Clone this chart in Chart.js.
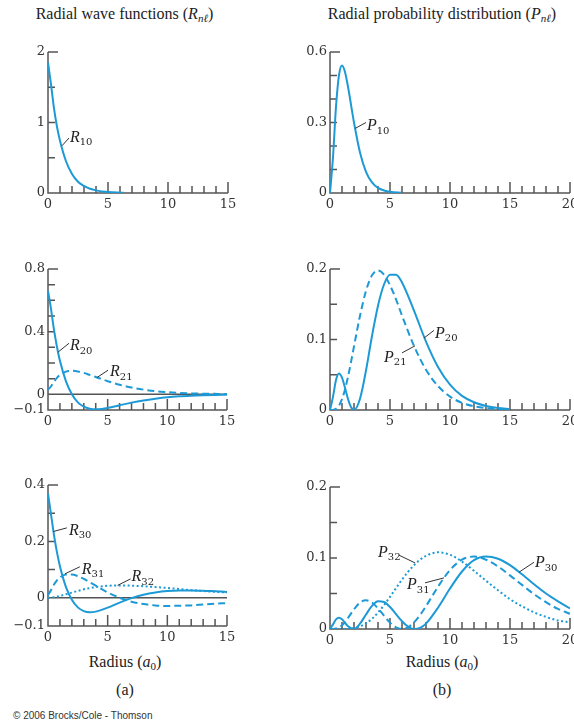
<!DOCTYPE html>
<html>
<head>
<meta charset="utf-8">
<script src="https://cdn.jsdelivr.net/npm/chart.js@4.4.1/dist/chart.umd.min.js"></script>
<style>
  body { margin: 0; width: 574px; height: 726px; overflow: hidden; background: #fff; position: relative; font-family: "Liberation Serif", serif; color: #222; }
  .box { position: absolute; }
  .txt { position: absolute; white-space: nowrap; text-align: center; font-size: 16px; line-height: 16px; }
  .txt sub { font-size: 11px; vertical-align: -3px; line-height: 0; }
  .copy { position: absolute; left: 13px; top: 710px; font: 10px "Liberation Sans", sans-serif; color: #333; white-space: nowrap; }
</style>
</head>
<body>

<div class="txt" style="left:0px; top:6px; width:249px">Radial wave functions (<i>R</i><sub><i>nℓ</i></sub>)</div>
<div class="txt" style="left:322px; top:6px; width:240px">Radial probability distribution (<i>P</i><sub><i>nℓ</i></sub>)</div>
<div class="txt" style="left:65px; top:654px; width:120px">Radius (<i>a</i><sub>0</sub>)</div>
<div class="txt" style="left:382px; top:654px; width:120px">Radius (<i>a</i><sub>0</sub>)</div>
<div class="txt" style="left:95px; top:682px; width:60px">(a)</div>
<div class="txt" style="left:412px; top:682px; width:60px">(b)</div>
<div class="copy">© 2006 Brocks/Cole - Thomson</div>

<div class="box" id="b1"><canvas id="c1"></canvas></div>
<div class="box" id="b2"><canvas id="c2"></canvas></div>
<div class="box" id="b3"><canvas id="c3"></canvas></div>
<div class="box" id="b4"><canvas id="c4"></canvas></div>
<div class="box" id="b5"><canvas id="c5"></canvas></div>
<div class="box" id="b6"><canvas id="c6"></canvas></div>

<script>
// radius values (units of a0) and curves
var r1 = [0, 0.25, 0.5, 0.75, 1, 1.5, 2, 2.5, 3, 3.5, 4, 5, 6, 6.3];
var R10 = [1.85, 1.54, 1.2, 0.94, 0.74, 0.45, 0.27, 0.16, 0.1, 0.06, 0.037, 0.013, 0.005, 0.004];

var r2 = [0, 0.25, 0.5, 0.75, 1, 1.25, 1.5, 2, 2.5, 3, 3.5, 4, 5, 6];
var P10 = [0, 0.152, 0.368, 0.502, 0.543, 0.515, 0.452, 0.3, 0.172, 0.09, 0.045, 0.022, 0.005, 0.001];

var r3 = [0, 0.25, 0.5, 0.75, 1, 1.5, 2, 2.5, 3, 3.5, 4, 4.5, 5, 6, 7, 8, 9, 10, 11, 12, 13, 14, 15];
var R20 = [0.66, 0.546, 0.413, 0.304, 0.214, 0.084, 0, -0.051, -0.079, -0.092, -0.096, -0.093, -0.087, -0.07, -0.053, -0.039, -0.028, -0.019, -0.013, -0.009, -0.006, -0.004, -0.003];
var R21 = [0.03, 0.05, 0.08, 0.105, 0.124, 0.145, 0.15, 0.146, 0.137, 0.124, 0.111, 0.097, 0.084, 0.061, 0.043, 0.03, 0.02, 0.014, 0.009, 0.006, 0.004, 0.003, 0.002];

var r4 = [0, 0.25, 0.5, 0.75, 1, 1.25, 1.5, 1.75, 2, 2.5, 3, 3.5, 4, 4.5, 5, 5.5, 6, 7, 8, 9, 10, 11, 12, 13, 14, 15];
var P20 = [0, 0.0186, 0.0426, 0.0519, 0.046, 0.0315, 0.0157, 0.0042, 0, 0.016, 0.056, 0.105, 0.148, 0.178, 0.192, 0.192, 0.181, 0.141, 0.097, 0.061, 0.036, 0.02, 0.011, 0.0058, 0.0029, 0.0015];
var P21 = [0, 0.0001, 0.0016, 0.0062, 0.0153, 0.0291, 0.0471, 0.0679, 0.0902, 0.1336, 0.169, 0.191, 0.198, 0.192, 0.177, 0.157, 0.134, 0.091, 0.057, 0.034, 0.019, 0.0102, 0.0053, 0.0027, 0.0013, 0.0007];

var r5 = [0, 0.25, 0.5, 0.75, 1, 1.5, 2, 2.5, 3, 3.5, 4, 5, 6, 7, 8, 9, 10, 11, 12, 13, 14, 15];
var R30 = [0.37, 0.297, 0.223, 0.162, 0.112, 0.039, -0.007, -0.034, -0.047, -0.051, -0.049, -0.035, -0.017, -0.001, 0.011, 0.019, 0.024, 0.026, 0.026, 0.025, 0.023, 0.021];
var R31 = [0.01, 0.027, 0.047, 0.062, 0.072, 0.083, 0.083, 0.077, 0.067, 0.055, 0.043, 0.019, 0, -0.014, -0.022, -0.027, -0.029, -0.028, -0.027, -0.024, -0.021, -0.019];
var R32 = [0, 0.0005, 0.0019, 0.004, 0.0065, 0.0123, 0.0185, 0.0245, 0.03, 0.0344, 0.038, 0.0426, 0.044, 0.043, 0.041, 0.038, 0.035, 0.031, 0.027, 0.024, 0.021, 0.019];

var r6 = [0, 0.25, 0.5, 0.75, 1, 1.25, 1.5, 2, 2.5, 3, 3.5, 4, 4.5, 5, 5.5, 6, 6.5, 7, 7.5, 8, 9, 10, 11, 12, 13, 14, 15, 16, 17, 18, 19, 20];
var P30 = [0, 0.0065, 0.0135, 0.016, 0.0136, 0.0088, 0.0038, 0.0002, 0.0075, 0.0205, 0.0325, 0.039, 0.038, 0.031, 0.021, 0.011, 0.0034, 0.0001, 0.0016, 0.0076, 0.03, 0.057, 0.081, 0.097, 0.102, 0.099, 0.09, 0.077, 0.063, 0.05, 0.039, 0.029];
var P31 = [0, 0.0001, 0.0006, 0.0022, 0.0053, 0.0098, 0.0155, 0.0277, 0.0372, 0.0405, 0.0373, 0.0291, 0.0188, 0.009, 0.0024, 0, 0.0024, 0.0092, 0.0195, 0.0321, 0.0595, 0.083, 0.0976, 0.102, 0.0975, 0.088, 0.0755, 0.0621, 0.0491, 0.0378, 0.0283, 0.0215];
var P32 = [0, 0, 0, 0, 0, 0.0001, 0.0003, 0.0014, 0.0038, 0.008, 0.0145, 0.0231, 0.0336, 0.0453, 0.0575, 0.0695, 0.0805, 0.0899, 0.0975, 0.103, 0.108, 0.1045, 0.095, 0.082, 0.068, 0.0545, 0.042, 0.032, 0.0235, 0.017, 0.012, 0.0095];

// tick labels
var xTicksA = [0, 5, 10, 15];
var xTicksB = [0, 5, 10, 15, 20];
var yTicks1 = [0, 1, 2];
var yTicks2 = [0, 0.3, 0.6];
var yTicks3 = [-0.1, 0, 0.4, 0.8];
var yTicks4 = [0, 0.1, 0.2];
var yTicks5 = [-0.1, 0, 0.2, 0.4];
var yTicks6 = [0, 0.1, 0.2];

var lineColor = '#1d9ad6';
var axisColor = '#555';
var xAxisH = 28;
var solid = [];
var dashed = [7, 4];
var dotted = [2, 2.5];

function pts(xs, ys) {
  return xs.map(function(x, i) { return {x: x, y: ys[i]}; });
}

// axes with inward ticks, zero line, and curve labels
var decor = {
  id: 'decor',
  beforeDatasetsDraw: function(chart) {
    var o = chart.options.plugins.decor;
    var ctx = chart.ctx, xs = chart.scales.x, ys = chart.scales.y, a = chart.chartArea;
    ctx.save();
    ctx.strokeStyle = axisColor;
    ctx.lineWidth = 1.5;
    ctx.beginPath();
    ctx.moveTo(a.left, a.top);
    ctx.lineTo(a.left, a.bottom);
    ctx.lineTo(a.right, a.bottom);
    for (var v = 1; v <= xs.max; v++) {
      var px = xs.getPixelForValue(v);
      ctx.moveTo(px, a.bottom);
      ctx.lineTo(px, a.bottom - (v % 5 === 0 ? 11 : 7));
    }
    var n = Math.round((ys.max - ys.min) / o.yStep);
    for (var i = 1; i <= n; i++) {
      var py = ys.getPixelForValue(ys.min + i * o.yStep);
      ctx.moveTo(a.left, py);
      ctx.lineTo(a.left + (i === n ? 10 : 7), py);
    }
    if (ys.min < 0) {
      var z = ys.getPixelForValue(0);
      ctx.moveTo(a.left, z);
      ctx.lineTo(a.right, z);
    }
    ctx.stroke();
    ctx.restore();
  },
  afterDatasetsDraw: function(chart) {
    var o = chart.options.plugins.decor;
    var ctx = chart.ctx, xs = chart.scales.x, ys = chart.scales.y;
    ctx.save();
    o.notes.forEach(function(nt) {
      ctx.strokeStyle = '#333';
      ctx.lineWidth = 1;
      ctx.beginPath();
      ctx.moveTo(xs.getPixelForValue(nt.from[0]), ys.getPixelForValue(nt.from[1]));
      ctx.lineTo(xs.getPixelForValue(nt.to[0]), ys.getPixelForValue(nt.to[1]));
      ctx.stroke();
      var tx = xs.getPixelForValue(nt.at[0]), ty = ys.getPixelForValue(nt.at[1]);
      ctx.fillStyle = '#222';
      ctx.textAlign = 'left';
      ctx.textBaseline = 'middle';
      ctx.font = 'italic 16px "Liberation Serif"';
      ctx.fillText(nt.text, tx, ty);
      var w = ctx.measureText(nt.text).width;
      ctx.font = '10px "DejaVu Serif"';
      ctx.fillText(nt.sub, tx + w, ty + 5);
    });
    ctx.restore();
  }
};

var panels = [
  {box: 'b1', canvas: 'c1', left: 0, top: 30, width: 287, height: 200, area: [48, 52, 228, 193],
   xMax: 15, yMin: 0, yMax: 2, yStep: 0.5, xTicks: xTicksA, yTicks: yTicks1,
   series: [{r: r1, v: R10, dash: solid}],
   notes: [{text: 'R', sub: '10', at: [1.83, 0.79], from: [1.17, 0.67], to: [1.75, 0.78]}]},
  {box: 'b2', canvas: 'c2', left: 287, top: 30, width: 300, height: 200, area: [330, 52, 570, 193],
   xMax: 20, yMin: 0, yMax: 0.6, yStep: 0.1, xTicks: xTicksB, yTicks: yTicks2,
   series: [{r: r2, v: P10, dash: solid}],
   notes: [{text: 'P', sub: '10', at: [3.08, 0.285], from: [2.1, 0.275], to: [3.0, 0.3]}]},
  {box: 'b3', canvas: 'c3', left: 0, top: 250, width: 287, height: 200, area: [48, 269, 227, 410],
   xMax: 15, yMin: -0.1, yMax: 0.8, yStep: 0.1, xTicks: xTicksA, yTicks: yTicks3,
   series: [{r: r3, v: R20, dash: solid}, {r: r3, v: R21, dash: dashed}],
   notes: [{text: 'R', sub: '20', at: [1.84, 0.307], from: [0.85, 0.27], to: [1.76, 0.326]},
           {text: 'R', sub: '21', at: [5.2, 0.141], from: [4.1, 0.107], to: [5.03, 0.154]}]},
  {box: 'b4', canvas: 'c4', left: 287, top: 250, width: 300, height: 200, area: [330, 269, 570, 410],
   xMax: 20, yMin: 0, yMax: 0.2, yStep: 0.05, xTicks: xTicksB, yTicks: yTicks4,
   series: [{r: r4, v: P20, dash: solid}, {r: r4, v: P21, dash: dashed}],
   notes: [{text: 'P', sub: '20', at: [8.75, 0.108], from: [7.83, 0.102], to: [8.67, 0.113]},
           {text: 'P', sub: '21', at: [4.5, 0.074], from: [6.0, 0.081], to: [7.08, 0.091]}]},
  {box: 'b5', canvas: 'c5', left: 0, top: 468, width: 287, height: 190, area: [48, 485, 227, 626],
   xMax: 15, yMin: -0.1, yMax: 0.4, yStep: 0.1, xTicks: xTicksA, yTicks: yTicks5,
   series: [{r: r5, v: R30, dash: solid}, {r: r5, v: R31, dash: dashed}, {r: r5, v: R32, dash: dotted}],
   notes: [{text: 'R', sub: '30', at: [1.75, 0.238], from: [0.45, 0.235], to: [1.58, 0.248]},
           {text: 'R', sub: '31', at: [2.83, 0.099], from: [1.42, 0.085], to: [2.67, 0.11]},
           {text: 'R', sub: '32', at: [7.0, 0.074], from: [5.83, 0.044], to: [6.92, 0.067]}]},
  {box: 'b6', canvas: 'c6', left: 287, top: 468, width: 300, height: 190, area: [330, 487, 570, 629],
   xMax: 20, yMin: 0, yMax: 0.2, yStep: 0.05, xTicks: xTicksB, yTicks: yTicks6,
   series: [{r: r6, v: P30, dash: solid}, {r: r6, v: P31, dash: dashed}, {r: r6, v: P32, dash: dotted}],
   notes: [{text: 'P', sub: '32', at: [4.0, 0.108], from: [5.75, 0.104], to: [7.1, 0.093]},
           {text: 'P', sub: '31', at: [6.42, 0.062], from: [7.92, 0.065], to: [9.5, 0.072]},
           {text: 'P', sub: '30', at: [17.08, 0.093], from: [15.75, 0.08], to: [17.0, 0.094]}]}
];

function fmt(v) {
  return v < 0 ? '\u2212' + Math.abs(v) : String(v);
}

function makeChart(p) {
  var box = document.getElementById(p.box);
  box.style.left = p.left + 'px';
  box.style.top = p.top + 'px';
  var canvas = document.getElementById(p.canvas);
  canvas.width = p.width;
  canvas.height = p.height;
  var tickFont = {family: '"DejaVu Serif"', size: 13};

  new Chart(canvas, {
    type: 'line',
    data: {
      datasets: p.series.map(function(s) {
        return {
          data: pts(s.r, s.v),
          borderColor: lineColor,
          borderWidth: 2,
          borderDash: s.dash,
          pointRadius: 0,
          fill: false,
          cubicInterpolationMode: 'monotone'
        };
      })
    },
    options: {
      responsive: false,
      animation: false,
      events: [],
      layout: {
        padding: {
          left: 0,
          top: p.area[1] - p.top,
          right: p.left + p.width - p.area[2],
          bottom: p.top + p.height - p.area[3] - xAxisH
        }
      },
      plugins: {
        legend: {display: false},
        tooltip: {enabled: false},
        decor: {yStep: p.yStep, notes: p.notes}
      },
      scales: {
        x: {
          type: 'linear', min: 0, max: p.xMax,
          grid: {display: false, drawTicks: false},
          border: {display: false},
          ticks: {font: tickFont, color: '#333', padding: 4, maxRotation: 0, autoSkip: false},
          afterBuildTicks: function(ax) { ax.ticks = p.xTicks.map(function(v) { return {value: v}; }); },
          afterFit: function(ax) { ax.height = xAxisH; ax.paddingLeft = 0; ax.paddingRight = 0; }
        },
        y: {
          type: 'linear', min: p.yMin, max: p.yMax,
          grid: {display: false, drawTicks: false},
          border: {display: false},
          ticks: {font: tickFont, color: '#333', padding: 3, autoSkip: false, callback: fmt},
          afterBuildTicks: function(ax) { ax.ticks = p.yTicks.map(function(v) { return {value: v}; }); },
          afterFit: function(ax) { ax.width = p.area[0] - p.left; ax.paddingTop = 0; ax.paddingBottom = 0; }
        }
      }
    },
    plugins: [decor]
  });
}

panels.forEach(makeChart);
</script>
</body>
</html>
